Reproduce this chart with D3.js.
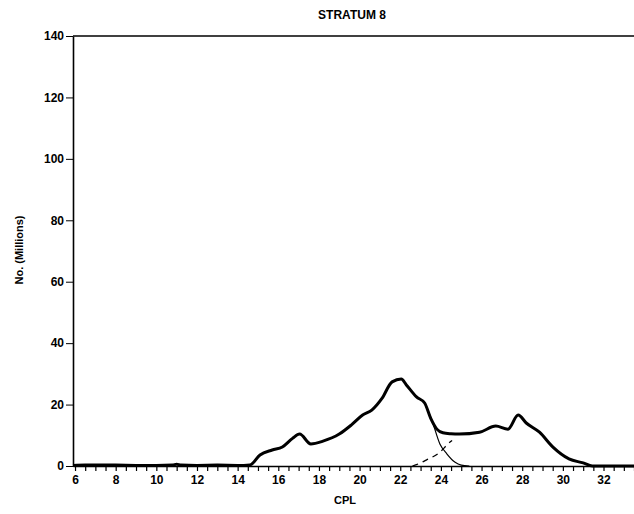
<!DOCTYPE html>
<html>
<head>
<meta charset="utf-8">
<script src="https://cdn.jsdelivr.net/npm/d3@7"></script>
<style>
  body { margin: 0; background: #fff; }
  text { font-family: "Liberation Sans", Arial, sans-serif; fill: #000; }
</style>
</head>
<body>
<script>
// 데이터
var totalCpl = [5.9, 6.5, 7, 8, 9, 10, 10.8, 11, 11.2, 12, 13, 14, 14.3, 14.6, 15.1, 15.7, 16.2, 16.7, 17.05, 17.6, 18.2, 19.0, 19.6, 20.15, 20.6, 21.1, 21.6, 22.05, 22.3, 22.8, 23.2, 23.5, 23.8, 24.1, 24.5, 24.9, 25.9, 26.7, 27.3, 27.8, 28.2, 28.85, 29.5, 30.3, 31.0, 31.45, 32, 33, 33.6];
var totalNo  = [0.2, 0.3, 0.3, 0.3, 0.2, 0.2, 0.3, 0.6, 0.3, 0.2, 0.3, 0.2, 0.2, 0.3, 3.6, 5.2, 6.2, 9, 10.4, 7.2, 8.1, 10.4, 13.4, 16.6, 18.2, 22, 27.4, 28.3, 26.4, 22.5, 20.5, 15.5, 12, 10.8, 10.5, 10.4, 11, 13, 12, 16.6, 14, 11, 6.2, 2.3, 1, 0, 0, 0, 0];
var comp1Cpl = [23.2, 23.55, 23.95, 24.3, 24.7, 25.0, 25.4];
var comp1No  = [20.5, 15, 7.2, 3.9, 1.2, 0.3, 0];
var comp2Cpl = [22.6, 23.0, 23.3, 23.9, 24.4, 24.55];
var comp2No  = [0, 1.0, 2.0, 4.2, 7.5, 8.3];
var xTicks = [6, 8, 10, 12, 14, 16, 18, 20, 22, 24, 26, 28, 30, 32];
var yTicks = [0, 20, 40, 60, 80, 100, 120, 140];

var LEFT = 73, TOP = 36, W = 634, H = 514;
var RIGHT_X = 634, BOTTOM_Y = 466;

var svg = d3.select("body").append("svg")
  .attr("width", W).attr("height", H);

var x = d3.scaleLinear().domain([5.9, 33.5]).range([LEFT, RIGHT_X]);
var y = d3.scaleLinear().domain([0, 140]).range([BOTTOM_Y, TOP]);

// 제목
svg.append("text")
  .attr("x", 352).attr("y", 19)
  .attr("text-anchor", "middle")
  .style("font-size", "12px")
  .style("font-weight", "bold")
  .text("STRATUM 8");

// 위쪽 테두리
svg.append("line")
  .attr("x1", LEFT).attr("x2", RIGHT_X)
  .attr("y1", TOP).attr("y2", TOP)
  .attr("stroke", "#000").attr("stroke-width", 1.3);

// X축 (눈금은 0.5 간격, 라벨은 2 간격)
var minor = d3.range(6, 33.6, 0.5);
var xAxis = d3.axisBottom(x).tickValues(minor).tickSize(5).tickSizeOuter(0)
  .tickFormat(function (d) { return xTicks.indexOf(d) >= 0 ? d : ""; });
var gx = svg.append("g")
  .attr("transform", "translate(0," + BOTTOM_Y + ")")
  .call(xAxis);
gx.select(".domain").attr("stroke-width", 1.6);
gx.selectAll(".tick line").attr("stroke-width", 1.2);
gx.selectAll("text").style("font-size", "12px").style("font-weight", "bold").attr("dy", "0.85em");

// Y축
var yAxis = d3.axisLeft(y).tickValues(yTicks).tickSize(7).tickSizeOuter(0);
var gy = svg.append("g")
  .attr("transform", "translate(" + LEFT + ",0)")
  .call(yAxis);
gy.select(".domain").attr("stroke-width", 1.6);
gy.selectAll("text").style("font-size", "12px").style("font-weight", "bold").attr("x", -9);

// 축 라벨
svg.append("text")
  .attr("x", 345).attr("y", 504)
  .attr("text-anchor", "middle")
  .style("font-size", "11px")
  .style("font-weight", "bold")
  .text("CPL");
svg.append("text")
  .attr("transform", "translate(23,250) rotate(-90)")
  .attr("text-anchor", "middle")
  .style("font-size", "11px")
  .style("font-weight", "bold")
  .text("No. (Millions)");

function pts(xs, ys) { return xs.map(function (d, i) { return [d, ys[i]]; }); }
var line = d3.line()
  .x(function (d) { return x(d[0]); })
  .y(function (d) { return y(d[1]); })
  .curve(d3.curveMonotoneX);

// 성분 곡선
svg.append("path").datum(pts(comp1Cpl, comp1No))
  .attr("d", line).attr("fill", "none")
  .attr("stroke", "#000").attr("stroke-width", 1.2);
svg.append("path").datum(pts(comp2Cpl, comp2No))
  .attr("d", line).attr("fill", "none")
  .attr("stroke", "#000").attr("stroke-width", 1.3)
  .attr("stroke-dasharray", "6,5");

// 전체 곡선
svg.append("path").datum(pts(totalCpl, totalNo))
  .attr("d", line).attr("fill", "none")
  .attr("stroke", "#000").attr("stroke-width", 3)
  .attr("stroke-linejoin", "round");
</script>
</body>
</html>
